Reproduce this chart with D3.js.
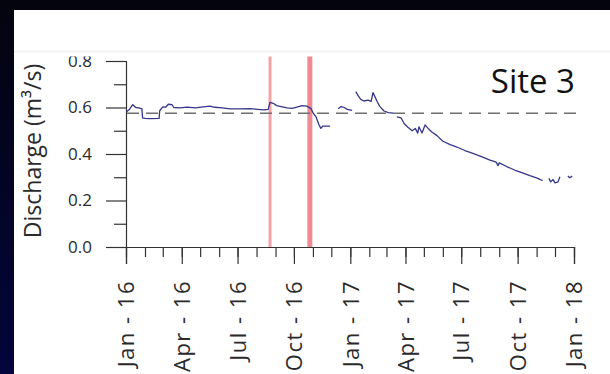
<!DOCTYPE html>
<html>
<head>
<meta charset="utf-8">
<script src="https://cdn.jsdelivr.net/npm/d3@7/dist/d3.min.js"></script>
<style>
  html, body { margin: 0; padding: 0; background: #04040e; }
  svg { display: block; }
</style>
</head>
<body>
<svg id="chart" width="610" height="374"></svg>
<script>
// Daily discharge record, Site 3 (null marks gaps in the logger record)
const dates = [
  "2016-01-02","2016-01-06","2016-01-12","2016-01-17","2016-01-22","2016-01-27",
  "2016-01-28","2016-02-01","2016-02-09","2016-02-24","2016-02-25","2016-03-01",
  "2016-03-06","2016-03-10","2016-03-16","2016-03-19","2016-03-29","2016-04-10",
  "2016-04-23","2016-05-06","2016-05-17","2016-05-25","2016-06-06","2016-06-19",
  "2016-07-05","2016-07-21","2016-08-03","2016-08-13","2016-08-20","2016-08-23",
  "2016-08-28","2016-09-03","2016-09-12","2016-09-20","2016-09-28","2016-10-06",
  "2016-10-14","2016-10-22","2016-10-29","2016-11-01","2016-11-06","2016-11-11",
  "2016-11-14","2016-11-17","2016-11-29","2016-12-05",
  "2016-12-12","2016-12-17","2016-12-22","2016-12-27","2017-01-04","2017-01-07",
  "2017-01-10","2017-01-14","2017-01-18","2017-01-23","2017-01-30","2017-02-04",
  "2017-02-07","2017-02-14","2017-02-18","2017-02-25","2017-03-04","2017-03-12","2017-03-15",
  "2017-03-18","2017-03-25","2017-03-30","2017-04-05","2017-04-12","2017-04-17",
  "2017-04-21","2017-04-23","2017-04-28","2017-05-03","2017-05-08","2017-05-14",
  "2017-05-22","2017-06-01","2017-06-13","2017-06-24","2017-07-07","2017-07-20",
  "2017-08-04","2017-08-17","2017-08-27","2017-08-30","2017-09-01","2017-09-14",
  "2017-09-27","2017-10-10","2017-10-21","2017-11-02","2017-11-07","2017-11-11","2017-11-16",
  "2017-11-21","2017-11-24","2017-11-28","2017-12-01","2017-12-06","2017-12-09","2017-12-15",
  "2017-12-22","2017-12-25","2017-12-29"
];
const discharge = [
  0.582, 0.590, 0.612, 0.600, 0.598, 0.594,
  0.555, 0.553, 0.552, 0.553, 0.586, 0.603,
  0.602, 0.614, 0.612, 0.600, 0.598, 0.602,
  0.598, 0.603, 0.606, 0.601, 0.598, 0.594,
  0.594, 0.595, 0.592, 0.590, 0.592, 0.622,
  0.618, 0.608, 0.603, 0.598, 0.596, 0.602,
  0.608, 0.606, 0.595, 0.578, 0.560, 0.525,
  0.510, 0.520, 0.520, null,
  0.595, 0.604, 0.600, 0.592, 0.588, null,
  0.668, 0.650, 0.635, 0.628, 0.632, 0.626,
  0.664, 0.625, 0.605, 0.585, 0.578, 0.576, null,
  0.560, 0.555, 0.530, 0.515, 0.500, 0.510,
  0.490, 0.517, 0.490, 0.525, 0.510, 0.495,
  0.480, 0.455, 0.440, 0.430, 0.415, 0.403,
  0.388, 0.374, 0.365, 0.350, 0.362, 0.345,
  0.330, 0.318, 0.307, 0.296, 0.290, 0.286, null,
  0.295, 0.280, 0.290, 0.276, 0.280, 0.302, null,
  0.305, 0.298, 0.305
];
const meanDischarge = 0.575;
const eventDates = ["2016-08-23", "2016-10-27"];
const eventWidths = [3, 5];
const yMajor = [0.0, 0.2, 0.4, 0.6, 0.8];
const yMinor = [0.1, 0.3, 0.5, 0.7];
const xLabels = ["Jan - 16","Apr - 16","Jul - 16","Oct - 16","Jan - 17","Apr - 17","Jul - 17","Oct - 17","Jan - 18"];
const siteName = "Site 3";
const yTitle = "Discharge (m³/s)";

const parse = d3.timeParse("%Y-%m-%d");
const series = dates.map((d, i) => ({ date: parse(d), q: discharge[i] }));

const svg = d3.select("#chart");
const W = 610, H = 374;

// slide background: dark frame with a navy tint down the left edge
const defs = svg.append("defs");
const grad = defs.append("linearGradient").attr("id", "edge").attr("x1", 0).attr("y1", 0).attr("x2", 0).attr("y2", 1);
grad.append("stop").attr("offset", "0%").attr("stop-color", "#04040e");
grad.append("stop").attr("offset", "100%").attr("stop-color", "#03053c");
svg.append("rect").attr("width", W).attr("height", H).attr("fill", "#04040e");
svg.append("rect").attr("x", 0).attr("y", 0).attr("width", 14).attr("height", H).attr("fill", "url(#edge)");

// white figure panel
svg.append("rect").attr("x", 14).attr("y", 10).attr("width", W - 14).attr("height", H - 10).attr("fill", "#ffffff");

const x = d3.scaleTime().domain([parse("2016-01-01"), parse("2018-01-01")]).range([126, 574]);
const y = d3.scaleLinear().domain([0, 0.8]).range([247, 61]);

const textCol = "#2a2a2a";
const axisCol = "#333333";

// event markers
svg.append("g").selectAll("line").data(eventDates).join("line")
  .attr("x1", d => x(parse(d))).attr("x2", d => x(parse(d)))
  .attr("y1", 50).attr("y2", y(0))
  .attr("stroke", (d, i) => i === 0 ? "#f4a2a7" : "#f08a92")
  .attr("stroke-width", (d, i) => eventWidths[i]);

// y axis: labelled majors, unlabelled minors
const yAxisMajor = d3.axisLeft(y).tickValues(yMajor).tickSize(20).tickPadding(14).tickFormat(d3.format(".1f"));
const yAxisMinor = d3.axisLeft(y).tickValues(yMinor).tickSize(12).tickFormat("");
const gy = svg.append("g").attr("transform", "translate(126,0)").call(yAxisMajor);
svg.append("g").attr("transform", "translate(126,0)").call(yAxisMinor).call(g => g.select(".domain").remove());
gy.selectAll("text").attr("font-family", "'Open Sans', sans-serif").attr("font-size", 17).attr("fill", textCol);

// x axis: quarterly labelled ticks, monthly minor ticks
const gxMinor = svg.append("g").attr("transform", `translate(0,${y(0)})`)
  .call(d3.axisBottom(x).ticks(d3.timeMonth.every(1)).tickSize(10).tickFormat(""));
gxMinor.select(".domain").remove();
const gx = svg.append("g").attr("transform", `translate(0,${y(0)})`)
  .call(d3.axisBottom(x).ticks(d3.timeMonth.every(3)).tickSize(17).tickFormat((d, i) => xLabels[i]));
gx.selectAll("text")
  .attr("font-family", "'Open Sans', sans-serif").attr("font-size", 22)
  .attr("letter-spacing", "1.5px")
  .attr("fill", textCol)
  .attr("text-anchor", "end")
  .attr("transform", "translate(0,33) rotate(-90)")
  .attr("x", 0).attr("y", 0).attr("dy", "0.35em");

svg.selectAll(".domain, .tick line").attr("stroke", axisCol).attr("stroke-width", 1.2);

// discharge record
const line = d3.line().defined(d => d.q !== null).x(d => x(d.date)).y(d => y(d.q)).curve(d3.curveLinear);
svg.append("path").datum(series).attr("d", line)
  .attr("fill", "none").attr("stroke", "#35368c").attr("stroke-width", 1.3).attr("stroke-linejoin", "round");

// long-term mean discharge
svg.append("line")
  .attr("x1", 127).attr("x2", 577)
  .attr("y1", y(meanDischarge)).attr("y2", y(meanDischarge))
  .attr("stroke", "#6e6e6e").attr("stroke-width", 1.5).attr("stroke-dasharray", "12,7");

// header strip above the plot
svg.append("rect").attr("x", 14).attr("y", 10).attr("width", W - 14).attr("height", 46.5).attr("fill", "#ffffff");
svg.append("line").attr("x1", 14).attr("x2", W).attr("y1", 51.5).attr("y2", 51.5).attr("stroke", "#eeeeee").attr("stroke-width", 1.5);

// site label
svg.append("text").attr("x", 575).attr("y", 93).attr("text-anchor", "end")
  .attr("font-family", "'Open Sans', sans-serif").attr("font-size", 33).attr("fill", "#111111")
  .text(siteName);

// y axis title
svg.append("text").attr("transform", "translate(41,151) rotate(-90)").attr("text-anchor", "middle")
  .attr("font-family", "'Open Sans', sans-serif").attr("font-size", 23).attr("fill", textCol)
  .text(yTitle);
</script>
</body>
</html>
